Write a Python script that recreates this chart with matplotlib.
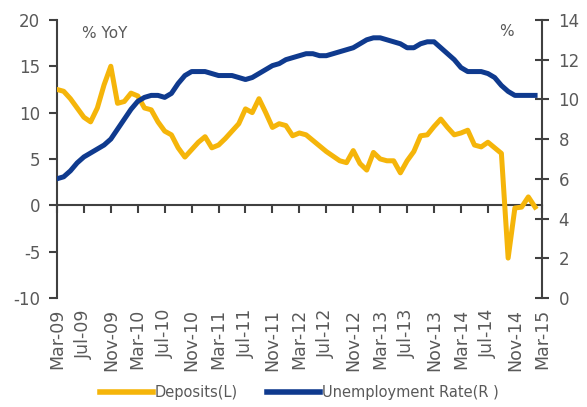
import numpy as np
import matplotlib.pyplot as plt

# monthly series, Mar-09 .. Feb-15
deposits = [12.5, 12.3, 11.5, 10.5, 9.5, 9.0, 10.5, 13.0, 15.0, 11.0,
            11.2, 12.1, 11.8, 10.5, 10.3, 9.0, 8.0, 7.6, 6.2, 5.2,
            6.0, 6.8, 7.4, 6.2, 6.5, 7.2, 8.0, 8.8, 10.4, 10.0,
            11.5, 10.0, 8.4, 8.8, 8.6, 7.5, 7.8, 7.6, 7.0, 6.4,
            5.8, 5.3, 4.8, 4.6, 5.9, 4.5, 3.8, 5.7, 5.0, 4.8,
            4.8, 3.5, 4.8, 5.8, 7.5, 7.6, 8.5, 9.3, 8.4, 7.6,
            7.8, 8.1, 6.5, 6.3, 6.8, 6.2, 5.6, -5.7, -0.3, -0.2,
            0.9, -0.2]
unemployment = [6.0, 6.1, 6.4, 6.8, 7.1, 7.3, 7.5, 7.7, 8.0, 8.5,
                9.0, 9.5, 9.9, 10.1, 10.2, 10.2, 10.1, 10.3, 10.8, 11.2,
                11.4, 11.4, 11.4, 11.3, 11.2, 11.2, 11.2, 11.1, 11.0, 11.1,
                11.3, 11.5, 11.7, 11.8, 12.0, 12.1, 12.2, 12.3, 12.3, 12.2,
                12.2, 12.3, 12.4, 12.5, 12.6, 12.8, 13.0, 13.1, 13.1, 13.0,
                12.9, 12.8, 12.6, 12.6, 12.8, 12.9, 12.9, 12.6, 12.3, 12.0,
                11.6, 11.4, 11.4, 11.4, 11.3, 11.1, 10.7, 10.4, 10.2, 10.2,
                10.2, 10.2]
tick_labels = ['Mar-09', 'Jul-09', 'Nov-09', 'Mar-10', 'Jul-10', 'Nov-10',
               'Mar-11', 'Jul-11', 'Nov-11', 'Mar-12', 'Jul-12', 'Nov-12',
               'Mar-13', 'Jul-13', 'Nov-13', 'Mar-14', 'Jul-14', 'Nov-14',
               'Mar-15']

months = np.arange(len(deposits))
tick_pos = np.arange(0, 73, 4)

yellow = '#F5B50A'
navy = '#0F3A8E'
axis_col = '#404040'
text_col = '#595959'

plt.rcParams['font.family'] = ['DejaVu Sans']
plt.rcParams['axes.unicode_minus'] = False

fig = plt.figure(figsize=(5.87, 4.07), dpi=100)
ax = fig.add_axes([0.097, 0.268, 0.826, 0.683])
ax2 = ax.twinx()

ax.plot(months, deposits, color=yellow, lw=3.6, zorder=3)
ax2.plot(months, unemployment, color=navy, lw=3.6, zorder=3)

ax.set_xlim(0, 72)
ax.set_ylim(-10, 20)
ax.set_yticks(range(-10, 21, 5))
ax2.set_ylim(0, 14)
ax2.set_yticks(range(0, 15, 2))

# x axis line sits at zero, labels stay at the bottom
ax.spines['bottom'].set_position(('data', 0))
ax.set_xticks(tick_pos)
ax.tick_params(axis='x', direction='out', length=6, width=1.5,
               color=axis_col, labelbottom=False)
sec = ax.secondary_xaxis(0.0)
sec.set_xticks(tick_pos, tick_labels, rotation=90)
sec.tick_params(length=0, pad=8, labelsize=12.5, labelcolor=text_col)
sec.spines['bottom'].set_visible(False)

for a in (ax, ax2):
    a.spines['top'].set_visible(False)
    for s in a.spines.values():
        s.set_color(axis_col)
        s.set_linewidth(1.5)
ax2.spines['bottom'].set_visible(False)
ax2.spines['left'].set_visible(False)
ax.spines['right'].set_visible(False)

ax.tick_params(axis='y', direction='out', length=6, width=1.5, color=axis_col,
               labelsize=12, labelcolor=text_col, pad=6)
ax2.tick_params(axis='y', direction='inout', length=10, width=1.5, color=axis_col,
                labelsize=12, labelcolor=text_col, pad=7)

ax.text(0.052, 0.953, '% YoY', transform=ax.transAxes, fontsize=11,
        color=text_col, va='center')
ax.text(0.912, 0.957, '%', transform=ax.transAxes, fontsize=11,
        color=text_col, va='center')

handles = [plt.Line2D([], [], color=yellow, lw=4),
           plt.Line2D([], [], color=navy, lw=4)]
fig.legend(handles, ['Deposits(L)', 'Unemployment Rate(R )'], loc='center',
           bbox_to_anchor=(0.51, 0.035), ncol=2, frameon=False, fontsize=10.5,
           labelcolor=text_col, handlelength=3.6, handletextpad=0.15,
           columnspacing=2.0)

fig.savefig('out.png', dpi=100)
